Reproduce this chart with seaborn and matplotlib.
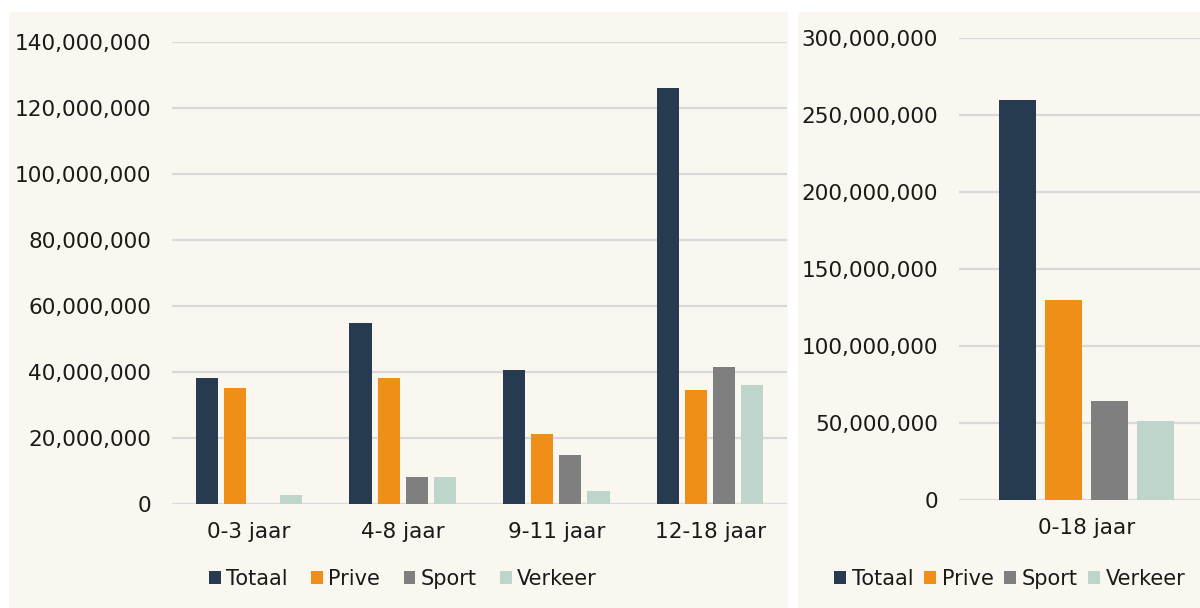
import matplotlib
matplotlib.use("Agg")
import matplotlib.pyplot as plt
from matplotlib.patches import Rectangle, Patch
from matplotlib.ticker import FuncFormatter
import seaborn as sns
import pandas as pd

# ---- data ----
groepen = ["0-3 jaar", "4-8 jaar", "9-11 jaar", "12-18 jaar"]
types = ["Totaal", "Prive", "Sport", "Verkeer"]
totaal = [38.2e6, 54.9e6, 40.7e6, 126.0e6]
prive = [35.2e6, 38.2e6, 21.2e6, 34.6e6]
sport = [0.0, 8.2e6, 14.9e6, 41.5e6]
verkeer = [2.8e6, 8.2e6, 3.9e6, 36.1e6]

groep_totaal = ["0-18 jaar"]
tot_totaal = [259.8e6]
tot_prive = [129.9e6]
tot_sport = [64.4e6]
tot_verkeer = [51.4e6]

colors = ["#263A50", "#F08F18", "#7F7F7F", "#BDD5CA"]
bg = "#FAF7F1"
grid_c = "#D9D9D9"
text_c = "#1A1A1A"

sns.set_theme(style="white")
plt.rcParams["font.family"] = ["DejaVu Sans"]
plt.rcParams["font.size"] = 15

W, H = 1200, 608
fig = plt.figure(figsize=(W / 100, H / 100), dpi=100, facecolor="white")

def fx(px):
    return px / W

def fy(py):
    return 1 - py / H

# panel backgrounds
fig.patches.append(Rectangle((fx(9), 0), fx(788) - fx(9), fy(12), transform=fig.transFigure,
                             facecolor=bg, edgecolor="none", zorder=-10))
fig.patches.append(Rectangle((fx(798), 0), fx(1200) - fx(798), fy(12), transform=fig.transFigure,
                             facecolor=bg, edgecolor="none", zorder=-10))

def long_df(cats, series):
    rows = []
    for t, vals in zip(types, series):
        for c, v in zip(cats, vals):
            rows.append({"groep": c, "type": t, "waarde": v})
    return pd.DataFrame(rows)

df_left = long_df(groepen, [totaal, prive, sport, verkeer])
df_right = long_df(groep_totaal, [tot_totaal, tot_prive, tot_sport, tot_verkeer])

fmt = FuncFormatter(lambda v, p: f"{int(round(v)):,}")

def style_axis(ax, ymax, step):
    ax.set_facecolor("none")
    ax.set_ylim(0, ymax)
    ax.set_yticks([i * step for i in range(int(ymax / step) + 1)])
    ax.yaxis.set_major_formatter(fmt)
    for s in ax.spines.values():
        s.set_visible(False)
    ax.grid(axis="y", color=grid_c, linewidth=1.6, zorder=0)
    ax.set_axisbelow(True)
    ax.tick_params(axis="y", length=0, pad=15, labelsize=15.6, labelcolor=text_c)
    ax.tick_params(axis="x", length=0, pad=13, labelsize=15.6, labelcolor=text_c)
    ax.set_xlabel("")
    ax.set_ylabel("")

# left
ax1 = fig.add_axes([fx(172), fy(504), fx(787) - fx(172), fy(42) - fy(504)])
sns.barplot(data=df_left, x="groep", y="waarde", hue="type", hue_order=types,
            palette=colors, saturation=1, width=0.73, gap=0.21, linewidth=0,
            legend=False, ax=ax1, zorder=3)
style_axis(ax1, 140e6, 20e6)
ax1.set_xlim(-0.5, len(groepen) - 0.5)

# right
ax2 = fig.add_axes([fx(959), fy(500), fx(1200) - fx(959), fy(38) - fy(500)])
sns.barplot(data=df_right, x="groep", y="waarde", hue="type", hue_order=types,
            palette=colors, saturation=1, width=0.8, gap=0.196, linewidth=0,
            legend=False, ax=ax2, zorder=3)
style_axis(ax2, 300e6, 50e6)
ax2.set_xlim(-0.554, 0.493)

handles = [Patch(facecolor=c, edgecolor="none", label=t) for c, t in zip(colors, types)]
fig.legend(handles=handles, loc="center", bbox_to_anchor=(fx(403), fy(579)), ncol=4,
           frameon=False, fontsize=15, handlelength=0.55, handleheight=0.55,
           handletextpad=0.25, columnspacing=1.15, labelcolor=text_c)
fig.legend(handles=handles, loc="center", bbox_to_anchor=(fx(1010), fy(579)), ncol=4,
           frameon=False, fontsize=15, handlelength=0.55, handleheight=0.55,
           handletextpad=0.3, columnspacing=0.5, labelcolor=text_c)

fig.savefig("out.png", dpi=100, facecolor="white")
